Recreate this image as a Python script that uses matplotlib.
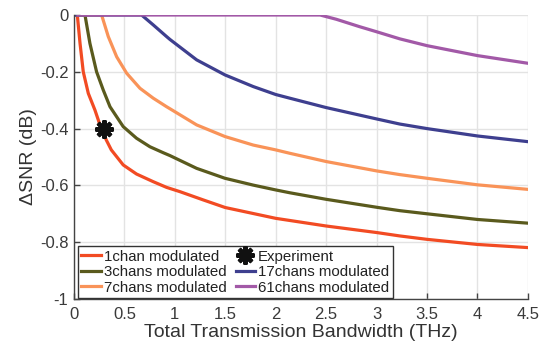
import matplotlib
matplotlib.use('Agg')
import matplotlib.pyplot as plt

plt.rcParams['font.family'] = ['Liberation Sans', 'DejaVu Sans']

x_1chan = [0.0, 0.033, 0.06, 0.092, 0.142, 0.208, 0.27, 0.32, 0.37, 0.488, 0.62, 0.786, 0.918,
           1.05, 1.28, 1.5, 2.0, 2.5, 3.0, 3.23, 3.5, 4.0, 4.5]
y_1chan = [0.0, 0.0, -0.1, -0.2, -0.276, -0.335, -0.4, -0.44, -0.475, -0.528, -0.56, -0.587, -0.607,
           -0.622, -0.651, -0.678, -0.716, -0.743, -0.766, -0.778, -0.79, -0.808, -0.819]

x_3chans = [0.0, 0.109, 0.158, 0.224, 0.29, 0.357, 0.488, 0.62, 0.753, 0.885, 0.951,
            1.216, 1.497, 1.777, 2.0, 2.14, 2.5, 3.0, 3.23, 3.5, 4.0, 4.5]
y_3chans = [0.0, 0.0, -0.1, -0.2, -0.264, -0.323, -0.393, -0.434, -0.464, -0.485, -0.495,
            -0.54, -0.575, -0.599, -0.616, -0.626, -0.649, -0.677, -0.689, -0.7, -0.72, -0.733]

x_7chans = [0.0, 0.274, 0.34, 0.423, 0.522, 0.654, 0.786, 0.918, 0.951, 1.216, 1.497,
            1.777, 2.0, 2.14, 2.5, 3.0, 3.23, 3.5, 4.0, 4.5]
y_7chans = [0.0, 0.0, -0.076, -0.147, -0.205, -0.258, -0.293, -0.323, -0.33, -0.387, -0.428,
            -0.458, -0.475, -0.487, -0.516, -0.549, -0.562, -0.575, -0.598, -0.614]

x_17chans = [0.0, 0.67, 0.786, 0.918, 0.951, 1.216, 1.497, 1.777, 2.0, 2.14, 2.5, 3.0,
             3.23, 3.5, 4.0, 4.5]
y_17chans = [0.0, 0.0, -0.035, -0.076, -0.086, -0.158, -0.211, -0.252, -0.28, -0.293, -0.326, -0.366,
             -0.384, -0.4, -0.426, -0.446]

x_61chans = [0.04, 2.44, 2.6, 2.83, 3.0, 3.23, 3.5, 4.0, 4.5]
y_61chans = [0.0, 0.0, -0.015, -0.041, -0.059, -0.084, -0.108, -0.143, -0.17]

x_exp = [0.3]
y_exp = [-0.4]

fig = plt.figure(figsize=(5.42, 3.52), dpi=100)
ax = fig.add_axes([0.1365, 0.1506, 0.8375, 0.8068])

lw = 2.3
l1, = ax.plot(x_1chan, y_1chan, color='#F24B23', lw=lw, label='1chan modulated')
l3, = ax.plot(x_3chans, y_3chans, color='#5A5A1D', lw=lw, label='3chans modulated')
l7, = ax.plot(x_7chans, y_7chans, color='#F99358', lw=lw, label='7chans modulated')
l17, = ax.plot(x_17chans, y_17chans, color='#3E3F8F', lw=lw, label='17chans modulated')
l61, = ax.plot(x_61chans, y_61chans, color='#A259A7', lw=lw, label='61chans modulated')
le, = ax.plot(x_exp, y_exp, ls='none', marker=(8, 2, 0), ms=13, mew=3,
              color='#111111', label='Experiment', zorder=5)

ax.set_xlim(0, 4.5)
ax.set_ylim(-1, 0)
ax.set_xticks([0, 0.5, 1, 1.5, 2, 2.5, 3, 3.5, 4, 4.5])
ax.set_xticklabels(['0', '0.5', '1', '1.5', '2', '2.5', '3', '3.5', '4', '4.5'])
ax.set_yticks([-1, -0.8, -0.6, -0.4, -0.2, 0])
ax.set_yticklabels(['-1', '-0.8', '-0.6', '-0.4', '-0.2', '0'])

ax.grid(True, color='#e3e3e3', lw=1)
ax.set_axisbelow(True)
for s in ['top', 'right']:
    ax.spines[s].set_visible(False)
for s in ['left', 'bottom']:
    ax.spines[s].set_color('#444444')
    ax.spines[s].set_linewidth(1)
ax.tick_params(direction='in', length=4, width=1, color='#444444',
               labelsize=12, labelcolor='#3a3a3a', pad=4)
ax.tick_params(axis='x', pad=6)

ax.set_xlabel('Total Transmission Bandwidth (THz)', fontsize=14, color='#333333', labelpad=1)
ax.set_ylabel('ΔSNR (dB)', fontsize=14, color='#333333', labelpad=2)

leg = ax.legend(handles=[l1, l3, l7, le, l17, l61], ncol=2, loc='lower left',
                bbox_to_anchor=(0.008, 0.002), fontsize=10.8, frameon=True,
                fancybox=False, edgecolor='#333333', framealpha=1,
                handlelength=1.3, handletextpad=0.2, columnspacing=0.6,
                labelspacing=0.1, borderpad=0.25, borderaxespad=0)
leg.get_frame().set_linewidth(1)
for t in leg.get_texts():
    t.set_color('#222222')

fig.savefig('out.png', dpi=100)
